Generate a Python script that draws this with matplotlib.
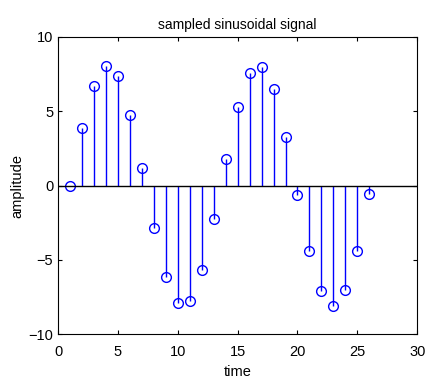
import matplotlib.pyplot as plt

plt.rcParams["font.family"] = ["Liberation Sans", "DejaVu Sans"]

n = list(range(1, 27))
values = [0.0, 3.9, 6.7, 8.06, 7.36, 4.78, 1.15, -2.86, -6.15, -7.92, -7.77, -5.7, -2.23,
          1.78, 5.32, 7.55, 7.97, 6.47, 3.29, -0.63, -4.37, -7.11, -8.1, -7.03, -4.37, -0.54]

fig = plt.figure(figsize=(4.27, 3.85), dpi=100)
ax = fig.add_axes([0.136, 0.132, 0.841, 0.772])

markerline, stemlines, baseline = ax.stem(n, values, linefmt="b-", markerfmt="bo", basefmt="k-")
markerline.set_markerfacecolor("none")
markerline.set_markersize(7)
markerline.set_markeredgewidth(1.0)
stemlines.set_linewidth(1.0)
baseline.set_linewidth(1.0)
baseline.set_xdata([0, 30])

ax.set_xlim(0, 30)
ax.set_ylim(-10, 10)
ax.set_xticks([0, 5, 10, 15, 20, 25, 30])
ax.set_yticks([-10, -5, 0, 5, 10])
ax.tick_params(direction="in", top=True, right=True, labelsize=10.5, length=3)
ax.tick_params(axis="x", pad=8)
ax.set_xlabel("time", fontsize=10.5, labelpad=4)
ax.set_ylabel("amplitude", fontsize=10.5, labelpad=3)
ax.set_title("sampled sinusoidal signal", fontsize=10, pad=6)

fig.savefig("out.png", dpi=100)
